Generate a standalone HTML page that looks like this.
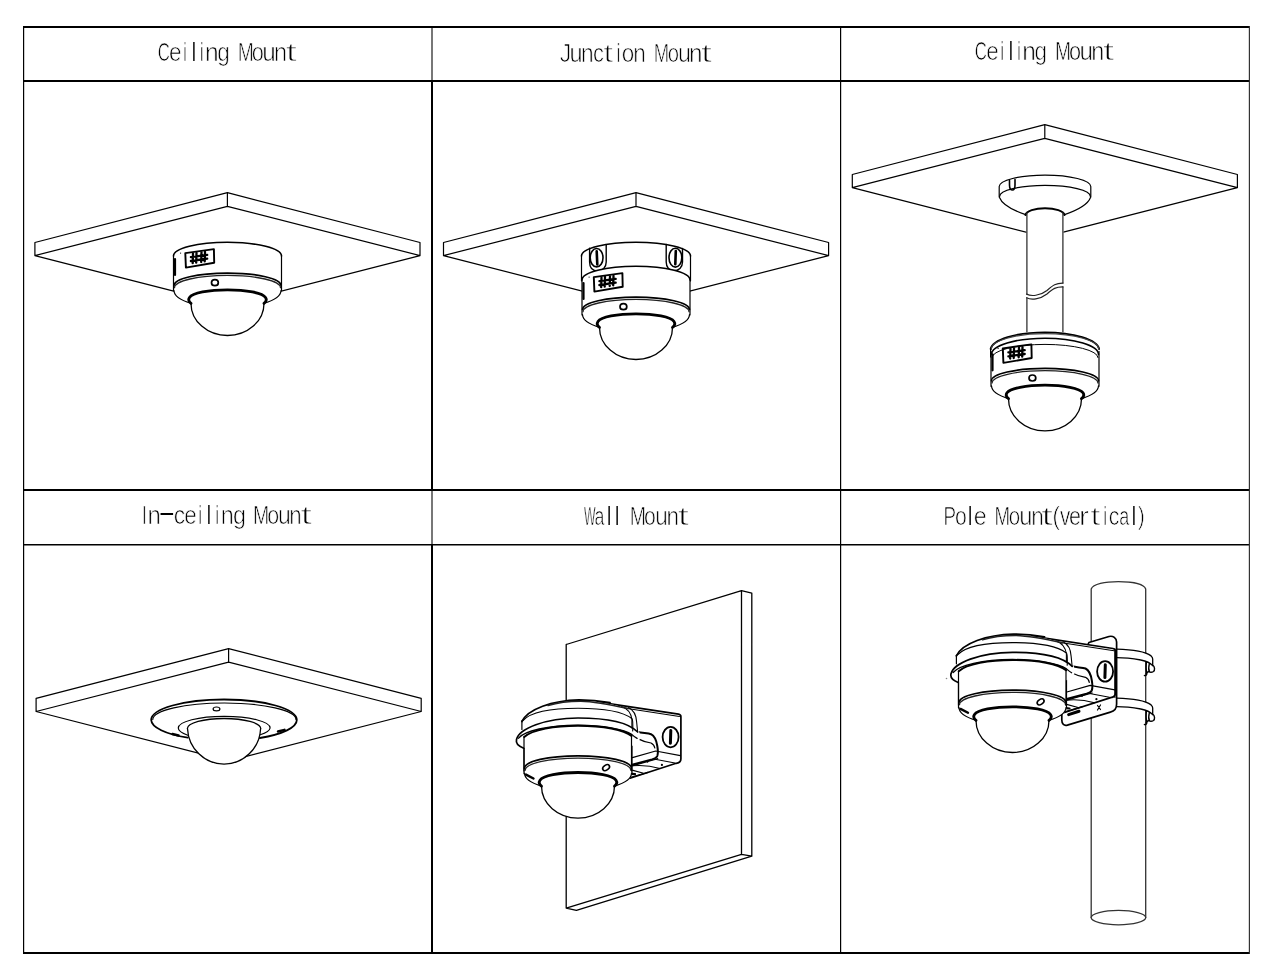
<!DOCTYPE html>
<html><head><meta charset="utf-8"><title>Mounts</title>
<style>html,body{margin:0;padding:0;background:#fff;overflow:hidden}svg{display:block}</style>
</head><body>
<svg width="1275" height="973" viewBox="0 0 1275 973">
<rect width="1275" height="973" fill="#fff"/>
<rect x="23" y="26" width="1227" height="2" fill="#000"/>
<rect x="23" y="80" width="1227" height="2" fill="#000"/>
<rect x="23" y="489" width="1227" height="2" fill="#000"/>
<rect x="23" y="544" width="1227" height="1.5" fill="#000"/>
<rect x="23" y="952" width="1227" height="2" fill="#000"/>
<rect x="23" y="26" width="1.2" height="928" fill="#000"/>
<rect x="1248.8" y="26" width="1.2" height="928" fill="#333"/>
<rect x="431" y="28" width="2" height="52" fill="#777"/>
<rect x="431" y="82" width="2" height="407" fill="#000"/>
<rect x="431" y="491" width="2" height="53" fill="#777"/>
<rect x="431" y="545" width="2" height="408" fill="#000"/>
<rect x="840" y="26" width="1.2" height="928" fill="#000"/>
<g font-family="Liberation Sans" font-size="25.0" fill="#000" stroke="#fff" stroke-width="0.7" style="will-change:transform"><text transform="translate(157.65,60.6) scale(0.67,1)">C</text><text transform="translate(169.04,60.6) scale(0.9,1)">e</text><text transform="translate(183.28,60.6) scale(0.62,1)">i</text><text transform="translate(191.91,60.6) scale(0.68,1)" stroke-width="0">l</text><text transform="translate(200.08,60.6) scale(0.62,1)">i</text><text transform="translate(205.07,60.6) scale(0.98,1)">n</text><text transform="translate(217.26,60.6) scale(0.9,1)">g</text><text transform="translate(237.72,60.6) scale(0.77,1)">M</text><text transform="translate(251.68,60.6) scale(0.87,1)">o</text><text transform="translate(262.23,60.6) scale(0.97,1)">u</text><text transform="translate(274.04,60.6) scale(0.94,1)">n</text><text transform="translate(285.24,60.6) scale(1.74,1)" stroke-width="1.05">t</text></g>
<g font-family="Liberation Sans" font-size="25.0" fill="#000" stroke="#fff" stroke-width="0.7" style="will-change:transform"><text transform="translate(559.64,62.1) scale(0.92,1)">J</text><text transform="translate(569.47,62.1) scale(0.94,1)">u</text><text transform="translate(581.08,62.1) scale(0.91,1)">n</text><text transform="translate(592.97,62.1) scale(0.87,1)">c</text><text transform="translate(602.93,62.1) scale(1.52,1)" stroke-width="1.05">t</text><text transform="translate(616.68,62.1) scale(0.62,1)">i</text><text transform="translate(621.86,62.1) scale(0.9,1)">o</text><text transform="translate(633.2,62.1) scale(0.9,1)">n</text><text transform="translate(653.78,62.1) scale(0.74,1)">M</text><text transform="translate(667.85,62.1) scale(0.81,1)">o</text><text transform="translate(677.89,62.1) scale(0.93,1)">u</text><text transform="translate(689.09,62.1) scale(0.97,1)">n</text><text transform="translate(700.55,62.1) scale(1.71,1)" stroke-width="1.05">t</text></g>
<g font-family="Liberation Sans" font-size="25.0" fill="#000" stroke="#fff" stroke-width="0.7" style="will-change:transform"><text transform="translate(974.85,60.4) scale(0.67,1)">C</text><text transform="translate(986.24,60.4) scale(0.9,1)">e</text><text transform="translate(1000.48,60.4) scale(0.62,1)">i</text><text transform="translate(1009.11,60.4) scale(0.68,1)" stroke-width="0">l</text><text transform="translate(1017.28,60.4) scale(0.62,1)">i</text><text transform="translate(1022.27,60.4) scale(0.98,1)">n</text><text transform="translate(1034.46,60.4) scale(0.9,1)">g</text><text transform="translate(1054.92,60.4) scale(0.77,1)">M</text><text transform="translate(1068.88,60.4) scale(0.87,1)">o</text><text transform="translate(1079.43,60.4) scale(0.97,1)">u</text><text transform="translate(1091.24,60.4) scale(0.94,1)">n</text><text transform="translate(1102.44,60.4) scale(1.74,1)" stroke-width="1.05">t</text></g>
<g font-family="Liberation Sans" font-size="25.0" fill="#000" stroke="#fff" stroke-width="0.7" style="will-change:transform"><text transform="translate(142.25,523.6) scale(0.62,1)">I</text><text transform="translate(147.61,523.6) scale(0.96,1)">n</text><text transform="translate(158.21,521.4) scale(2.06,1)" stroke-width="0">-</text><text transform="translate(173.63,523.6) scale(0.91,1)">c</text><text transform="translate(184.25,523.6) scale(0.9,1)">e</text><text transform="translate(198.58,523.6) scale(0.62,1)">i</text><text transform="translate(206.91,523.6) scale(0.68,1)" stroke-width="0">l</text><text transform="translate(215.58,523.6) scale(0.62,1)">i</text><text transform="translate(220.74,523.6) scale(0.94,1)">n</text><text transform="translate(232.92,523.6) scale(0.93,1)">g</text><text transform="translate(252.99,523.6) scale(0.78,1)">M</text><text transform="translate(267.2,523.6) scale(0.86,1)">o</text><text transform="translate(277.9,523.6) scale(0.92,1)">u</text><text transform="translate(289.23,523.6) scale(0.89,1)">n</text><text transform="translate(300.12,523.6) scale(1.79,1)" stroke-width="1.05">t</text></g>
<g font-family="Liberation Sans" font-size="25.0" fill="#000" stroke="#fff" stroke-width="0.7" style="will-change:transform"><text transform="translate(583.95,525.2) scale(0.49,1)">W</text><text transform="translate(594.55,525.2) scale(0.71,1)">a</text><text transform="translate(607.21,525.2) scale(0.68,1)" stroke-width="0">l</text><text transform="translate(615.31,525.2) scale(0.68,1)" stroke-width="0">l</text><text transform="translate(629.79,525.2) scale(0.78,1)">M</text><text transform="translate(644.01,525.2) scale(0.85,1)">o</text><text transform="translate(655.13,525.2) scale(0.9,1)">u</text><text transform="translate(666.4,525.2) scale(0.9,1)">n</text><text transform="translate(677.24,525.2) scale(1.75,1)" stroke-width="1.05">t</text></g>
<g font-family="Liberation Sans" font-size="25.0" fill="#000" stroke="#fff" stroke-width="0.7" style="will-change:transform"><text transform="translate(943.56,524.8) scale(0.75,1)">P</text><text transform="translate(954.91,524.8) scale(0.85,1)">o</text><text transform="translate(968.21,524.8) scale(0.68,1)" stroke-width="0">l</text><text transform="translate(973.71,524.8) scale(0.93,1)">e</text><text transform="translate(994.55,524.8) scale(0.75,1)">M</text><text transform="translate(1008.84,524.8) scale(0.82,1)">o</text><text transform="translate(1019.26,524.8) scale(0.95,1)">u</text><text transform="translate(1031.3,524.8) scale(0.9,1)">n</text><text transform="translate(1040.81,524.8) scale(1.83,1)" stroke-width="1.05">t</text><text transform="translate(1052.54,524.8) scale(0.88,1)">(</text><text transform="translate(1059.93,524.8) scale(0.82,1)">v</text><text transform="translate(1068.99,524.8) scale(0.86,1)">e</text><text transform="translate(1079.11,524.8) scale(1.2,1)">r</text><text transform="translate(1090.11,524.8) scale(1.55,1)" stroke-width="1.05">t</text><text transform="translate(1103.38,524.8) scale(0.62,1)">i</text><text transform="translate(1108.69,524.8) scale(0.85,1)">c</text><text transform="translate(1119.13,524.8) scale(0.72,1)">a</text><text transform="translate(1132.11,524.8) scale(0.68,1)" stroke-width="0">l</text><text transform="translate(1137.98,524.8) scale(0.8,1)">)</text></g>
<g fill="none" stroke="#000" stroke-width="1.2" stroke-linejoin="round" stroke-linecap="round">
<defs>
 <g id="slab">
  <path d="M34.9,242.5 L227.4,192.7 L420,242.5 M34.9,242.5 V255.6 M420,242.5 V255.6 M227.4,192.7 V206.3 M34.9,255.6 L227.4,206.3 L420,255.6 M34.9,255.6 L227.4,304.9 L420,255.6"/>
 </g>
 <!-- lower camera: housing sides from 256 down, bottom arcs, base ring, dome -->
 <g id="camlow">
  <path fill="#fff" stroke="none" d="M173.5,256 A54,13.7 0 0 1 281.5,256 V291 A53.5,17.8 0 0 1 264,303.4 A36.5,32.1 0 0 1 191,303.4 A53.5,17.8 0 0 1 173.5,291 Z"/>
  <path d="M173.5,256 V291 M281.5,256 V291"/>
  <path stroke-width="1.7" d="M174,285.5 A53.5,12.4 0 0 1 281,285.5"/>
  <path stroke-width="1.3" stroke="#222" d="M174.5,287.7 A53,12.3 0 0 1 280.5,287.7"/>
  <path d="M174,290.5 A53.5,17.8 0 0 0 191,303.4 M264,303.4 A53.5,17.8 0 0 0 281,290.5"/>
  <path stroke-width="2.8" d="M191,303.4 C188.5,301.5 188.5,299 189.5,297.5 A38.5,9.2 0 0 1 265.5,297.5 C266.5,299 266.5,301.5 264,303.4"/>
  <path stroke-width="1.3" d="M191,303.4 A36.5,32.1 0 0 0 264,303.4"/>
 </g>
 <g id="camtop">
  <path stroke-width="1.6" d="M173.5,256 A54,13.7 0 0 1 281.5,256"/>
 </g>
 <g id="camlabel">
  <path stroke-width="1.9" d="M185.3,253.1 L213.9,249.1 L214.2,262.7 L185.9,267.6 Z"/>
  <path stroke-width="2.3" d="M193,253.6 L192.7,263.2 M196.5,253 L196.2,262.7 M201.5,252.3 L201.2,262 M205,251.8 L204.7,261.4 M190.9,257.1 L207.2,254.8 M190.9,261 L207.2,258.7"/>
  <ellipse cx="214.9" cy="282.7" rx="3.4" ry="3" stroke-width="1.7"/>
  <path stroke-width="2.2" d="M175,259 V275"/>
  <circle cx="180.6" cy="253.1" r="0.6" fill="#000" stroke="none"/>
 </g>
</defs>

<!-- ===== cell 1 ===== -->
<use href="#slab"/>
<use href="#camlow"/>
<use href="#camtop"/>
<use href="#camlabel"/>

<!-- ===== cell 2 : junction ===== -->
<use href="#slab" x="408.6"/>
<path fill="#fff" stroke="none" d="M581.5,256 A54.5,13.7 0 0 1 690.5,256 V282 H581.5 Z"/>
<path stroke-width="1.6" d="M581.5,256 A54.5,13.7 0 0 1 690.5,256"/>
<path d="M581.5,256 V281 M690.5,256 V281"/>
<path stroke-width="1.4" d="M589.6,248.2 V262 C589.6,268 593,271 597.8,271 C602.5,271 606.2,267.5 606.2,262 V244.8"/>
<path stroke-width="1.4" d="M666.2,244.5 V262 C666.2,267.5 669.5,270.8 674,270.8 C678.5,270.8 682.5,267.5 682.5,262 V248.5"/>
<ellipse cx="596.6" cy="257.7" rx="6.4" ry="9.2" stroke-width="1.6"/>
<ellipse cx="675.4" cy="257.7" rx="6.4" ry="9.4" stroke-width="1.6"/>
<path stroke-width="2.6" d="M596.7,251.3 L597.3,264.5 M675.8,251 L675.3,264.3"/>
<use href="#camlow" x="408.5" y="24"/>
<use href="#camtop" x="408.5" y="24"/>
<use href="#camlabel" x="408.5" y="24"/>

<!-- ===== cell 3 : pendant ===== -->
<use href="#slab" x="817.4" y="-68"/>
<path fill="#fff" stroke="none" d="M999.2,186.6 A45.8,11.5 0 0 1 1090.8,186.6 V197 Q1088,207 1063.5,214.9 V340 H1026.5 V214.9 Q1002,207 999.2,197 Z"/>
<path d="M999.2,186.6 A45.8,11.5 0 0 1 1090.8,186.6 M999.2,186.6 V197 M1090.8,186.6 V197"/>
<path d="M999.6,196.4 A45.4,11 0 0 1 1090.4,196.4"/>
<path d="M999.5,197.5 Q1003,207 1026.3,214.9 M1090.5,197.5 Q1087,207 1063.9,214.9"/>
<path stroke-width="2" d="M1025.5,215 C1026,211 1035,208.2 1045,208.2 C1055,208.2 1064,211 1064.5,215"/>
<path stroke-width="1.6" d="M1009.5,180.5 V185 C1009.5,188.5 1011,190 1012.5,190 C1014,190 1015,188.5 1015,185 V179.5"/>
<path stroke="#333" stroke-width="1.3" d="M1026.9,213 V294.1 M1026.9,297.8 V333 M1062.9,213 V283.1 M1062.9,286.9 V333"/>
<path stroke="#222" stroke-width="1.2" d="M1026.6,294.1 C1031,296.5 1040,296 1047,290.5 C1053,285 1056,283 1063,283.1 M1026.6,297.8 C1031,300 1040,299.5 1047,294 C1053,288.5 1056,286.8 1063,286.9"/>
<use href="#camlow" x="817.5" y="95.3"/>
<path fill="#fff" stroke="none" d="M990.8,351 A54.2,20 0 0 1 1099.2,351 Z"/>
<path stroke-width="1.8" d="M990.6,349 A54.4,17.8 0 0 1 1099.2,349"/>
<path stroke-width="1.2" stroke="#444" d="M991.2,349.5 A53.8,15.9 0 0 1 1098.8,349.5"/>
<path stroke-width="1.6" d="M991.5,354.5 A53.5,16.3 0 0 1 1098.5,354.5"/>
<path stroke-width="1" d="M992,357.5 A53,13.1 0 0 1 1098,357.5"/>
<path d="M990.6,349 V357"/>
<use href="#camlabel" x="817.5" y="95.3"/>

<!-- ===== cell 4 : in-ceiling ===== -->
<use href="#slab" x="1.2" y="455.9"/>
<ellipse cx="224" cy="720" rx="72.8" ry="20.5" fill="#fff" stroke="none"/>
<path fill="#fff" stroke="none" d="M187.5,728.7 A36.6,37.3 0 0 0 260.6,728.7 Z"/>
<path stroke-width="1.8" d="M187.8,737.7 A72.8,20.6 0 0 1 151.2,720 A72.8,20.5 0 0 1 296.8,720 A72.8,20.6 0 0 1 259.8,738"/>
<path stroke-width="1.1" d="M152.8,719.5 A71.3,16.4 0 0 1 296,719.5"/>
<path stroke-width="1.2" d="M187.8,735.2 A45.9,11.7 0 0 1 178.3,728 A45.9,11.7 0 0 1 270.1,728 A45.9,11.7 0 0 1 260.2,734.8"/>
<path stroke-width="1.3" d="M187.4,728.5 A36.6,10 0 0 1 260.7,728.5"/>
<path stroke-width="1.3" d="M187.5,728.7 A36.6,37.3 0 0 0 260.6,728.7"/>
<ellipse cx="216.5" cy="708.9" rx="3.4" ry="1.9" stroke-width="1.2"/>
<path stroke-width="2.4" d="M172.5,734 L178.5,735.5 M278,731.5 L284.5,729.8"/>

<!-- ===== cell 5 : wall ===== -->
<path stroke-width="1.3" d="M566.2,644.5 L741.5,590.6 L751.8,593.1 M566.2,644.5 V908.1 L576.4,910.3 L751.8,856.2 V593.1 M741.5,590.6 V854.3 L566.2,908.1 M741.5,854.3 L751.8,856.2"/>
<g id="wallcam">
 <!-- bracket -->
 <path fill="#fff" stroke="none" d="M597.4,701.9 L680.1,714.6 C681,715 681,716 680.9,717 V758.7 C681,761 679,763 676.2,763.3 L630,778.2 V730 Z"/>
 <path stroke-width="1.7" d="M597.4,701.9 L678.5,714.2 C680,714.5 681,715.5 680.9,717 V758.7 C680.9,761 679,763 676.2,763.3 L630,778.2"/>
 <path stroke-width="1.1" d="M598,704 L679.5,716.5"/>
 <path d="M632.4,757.7 L655.7,751 L680.4,755.6 M632,765.9 L657.7,758.7 M628.4,778 L648,772.3"/>
 <ellipse cx="670.6" cy="737.1" rx="8" ry="10.2" stroke-width="1.8"/>
 <path stroke-width="3" d="M670.8,730.5 L670.4,743.3"/>
 <path stroke-width="2" d="M637.7,732 C642,733 648,733.3 651,734.2 C654.5,736 656.5,741 657.3,746 C658,750 658,754 657.3,756 C656.5,758 654.5,758.6 652,759.4 L632.1,764.7"/>
 <path stroke-width="1.2" d="M637.1,738.4 C642,741 648,742.5 651,743 C653,744 654.5,746 654.8,748"/>
 <path stroke-width="1.1" d="M632.1,765.8 C640,765 650,765.5 660,768.5 M632.1,770.1 L643.6,773.2 M655.1,759.2 L674.9,763"/>
 <path stroke-width="2.2" d="M631.5,773.8 L635,774.2"/>
 <circle cx="647.5" cy="761.8" r="0.9" fill="#000" stroke="none"/>
 <circle cx="661.9" cy="764.9" r="1.1" fill="#000" stroke="none"/>
 <!-- camera lower -->
 <use href="#camlow" x="350.5" y="482.7"/>
 <ellipse cx="606.1" cy="767.6" rx="3.8" ry="2.4" transform="rotate(-35 606.1 767.6)" stroke-width="1.6"/>
 <path stroke-width="2.4" d="M526,774.6 L533.5,778.5"/>
 <!-- cap / brim -->
 <path fill="#fff" stroke="none" d="M516.5,740.3 C514,733 518,727 521.9,724 V720.9 C530,708 555,700 578,699.5 L597.4,701.9 C615,704 630,708 635,716 C637,722 638,728 639.5,733 C641,737 641,742 632,746 L524,748 Z"/>
 <path stroke-width="1.8" d="M521.9,721.5 C528,709 552,700.5 579,699.8 C590,699.9 600,700.9 610,702.6"/>
 <path stroke-width="1.1" d="M523,720.5 C532,711 555,708.3 578,708.3 C600,708.3 622,711 632,718.7 C633,720 633,724 632.7,731"/>
 <path stroke-width="1.1" d="M621.6,706.6 C627,708.5 631,712.5 631.9,719.5 V728 M628.6,707.5 C633.5,710 636.2,714.5 636.6,721.8 C637,725 637.3,729 637.6,731.7"/>
 <path stroke-width="1.4" stroke="#222" d="M548,705.5 C560,701.8 570,701.2 580.8,701.2 C595,701.5 610,704.5 628,708.5"/>
 <path d="M521.9,720.9 V729.5"/>
 <path stroke-width="1.7" d="M523.7,748.2 C518,746 515.5,743.5 516.5,739.5 C519,729 545,718 578,718 C605,718 628,722 637.7,732"/>
 <path stroke-width="1.3" d="M518.6,738.2 C524,731 548,725.2 578,725.2 C603,725.2 624,729 632,734.6 C634,736.5 635.5,737.5 637.1,738.4"/>
 <path stroke-width="1.9" d="M524.2,737 C532,729.5 555,725.8 578,725.8 C603,725.8 624,729.5 631.6,736"/>
 <path d="M524,736.7 V771 M631.5,735.3 V771"/>
</g>

<!-- ===== cell 6 : pole ===== -->
<path fill="#fff" stroke="#333" stroke-width="1.3" d="M1091.2,589 C1093,584 1105,581.6 1118.4,581.6 C1132,581.6 1144,584 1145.7,589 V917.6 H1091.2 Z"/>
<ellipse cx="1118.45" cy="917.6" rx="27.3" ry="7.2" fill="#fff" stroke="#333" stroke-width="1.3"/>
<!-- straps -->
<g id="strap">
<path fill="#fff" stroke="none" d="M1116.7,649.2 C1130,649.5 1145,651.5 1151.1,655.9 C1152.5,657 1152.7,658 1152.7,659 V665.7 C1150,662.5 1145,660.5 1140.8,660 C1132,658.5 1124,657.7 1116.7,657.7 Z"/>
<path stroke-width="1.3" d="M1116.7,649.2 C1130,649.5 1145,651.5 1151.1,655.9 C1152.5,657 1152.7,658 1152.7,659 V664.2 M1116.7,657.7 C1124,657.7 1132,658.5 1140.8,660 C1145,660.8 1150,662.5 1152.7,665.7"/>
<path stroke-width="1.4" d="M1146.4,662.2 C1146,666 1146,670 1146.8,672.5 C1147.5,674.5 1145.5,676 1144.4,675.5 M1149.3,663.8 C1148.5,667 1148.5,670 1149.5,672 M1152.7,665 C1155,667 1155,670 1153.5,671.5 C1152,672.5 1150,672.5 1148.5,671.5 M1148.5,671.5 C1147.5,672.5 1146.5,673 1146.2,673.5"/>
</g>
<use href="#strap" y="49"/>
<!-- bracket plate -->
<path fill="#fff" stroke-width="1.7" d="M1088.9,642.5 L1109,636.5 C1113,635.5 1116.6,638 1116.6,642 V704.1 C1116.6,709 1114,711.5 1110.4,712.1 L1067.4,725.1 C1064,726 1061.8,724 1061.8,720 V700 Z"/>
<use href="#wallcam" x="434.5" y="-65.7"/>
<path stroke-width="1.1" d="M1114.9,648.7 V697.4"/>
<circle cx="946.5" cy="678.5" r="0.8" fill="#888" stroke="none"/>
<path stroke-width="3" d="M1068.6,714.6 L1079,711.2"/>
<path stroke-width="1.2" d="M1097.5,705.5 L1100.5,709.5 M1100.5,705 L1097.5,710"/>
</g>

</svg>
</body></html>
